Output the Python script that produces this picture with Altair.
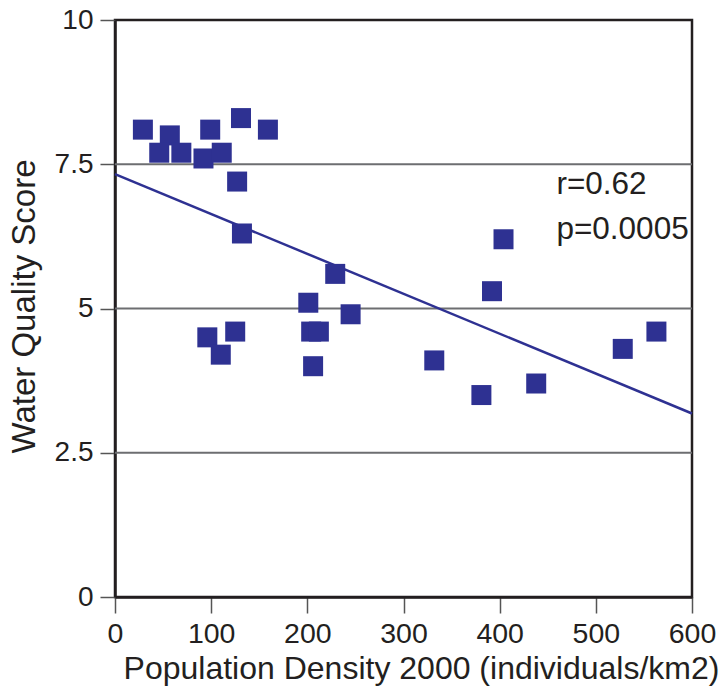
import altair as alt
import pandas as pd

# Data
density = [29, 57, 46, 69, 92, 99, 111, 131, 159, 127, 132,
           96, 110, 125, 201, 229, 204, 212, 206, 245,
           332, 381, 392, 404, 438, 528, 563]
quality = [8.1, 8.0, 7.7, 7.7, 7.6, 8.1, 7.7, 8.3, 8.1, 7.2, 6.3,
           4.5, 4.2, 4.6, 5.1, 5.6, 4.6, 4.6, 4.0, 4.9,
           4.1, 3.5, 5.3, 6.2, 3.7, 4.3, 4.6]

fit_x = [0, 600]
fit_y = [7.33, 3.18]

grid_vals = [2.5, 5, 7.5]

ann_x = [459, 459]
ann_y = [6.98, 6.2]
ann_text = ["r=0.62", "p=0.0005"]

pts = pd.DataFrame({"x": density, "y": quality})
fit = pd.DataFrame({"x": fit_x, "y": fit_y})
grid = pd.DataFrame({"y": grid_vals})
ann = pd.DataFrame({"x": ann_x, "y": ann_y, "t": ann_text})

FONT = "Liberation Sans"
INK = "#231f20"
NAVY = "#2e3192"

xscale = alt.Scale(domain=[0, 600], nice=False, zero=False)
yscale = alt.Scale(domain=[0, 10], nice=False, zero=False)

xaxis = alt.Axis(
    values=[0, 100, 200, 300, 400, 500, 600], format="d", grid=False,
    domainColor=INK, domainWidth=2.5, tickColor="#555555", tickWidth=1.5,
    tickSize=16, labelFont=FONT, labelFontSize=28.5, labelColor=INK,
    labelBaseline="alphabetic", labelPadding=29, labelFlush=False,
    title="Population Density 2000 (individuals/km2)", titleFont=FONT,
    titleFontSize=32, titleFontWeight="normal", titleColor=INK,
    titleX=306, titleY=81, titleBaseline="alphabetic", titleAnchor="middle",
    titleAlign="center",
)
yaxis = alt.Axis(
    values=[0, 2.5, 5, 7.5, 10], grid=False,
    labelExpr="datum.value == 0 ? '0' : datum.value == 5 ? '5' : datum.value == 10 ? '10' : format(datum.value, '.1f')",
    domainColor=INK, domainWidth=2.5, tickColor="#555555", tickWidth=1.5,
    tickSize=15, labelFont=FONT, labelFontSize=28, labelColor=INK,
    labelPadding=7, labelFlush=False, labelBaseline="middle",
    title="Water Quality Score", titleFont=FONT, titleFontSize=33,
    titleFontWeight="normal", titleColor=INK, titleAngle=-90,
    titleX=-91, titleY=286, titleBaseline="middle", titleAlign="center",
)

gridlines = alt.Chart(grid).mark_rule(color="#6d6e71", strokeWidth=2).encode(
    y=alt.Y("y:Q", scale=yscale, axis=yaxis),
)

points = alt.Chart(pts).mark_square(size=400, color=NAVY, opacity=1).encode(
    x=alt.X("x:Q", scale=xscale, axis=xaxis),
    y=alt.Y("y:Q", scale=yscale, axis=yaxis),
)

line = alt.Chart(fit).mark_line(color=NAVY, strokeWidth=2.5).encode(
    x=alt.X("x:Q", scale=xscale),
    y=alt.Y("y:Q", scale=yscale),
)

text = alt.Chart(ann).mark_text(
    font=FONT, fontSize=31.5, color=INK, align="left", baseline="alphabetic"
).encode(
    x=alt.X("x:Q", scale=xscale),
    y=alt.Y("y:Q", scale=yscale),
    text="t:N",
)

chart = alt.layer(gridlines, line, points, text).properties(
    width=577, height=577,
    padding={"left": 115, "top": 20, "right": 29, "bottom": 94},
    autosize=alt.AutoSizeParams(type="none"),
    background="white",
).configure_view(stroke=INK, strokeWidth=2.5)

chart.save("out.html", embed_options={"renderer": "svg", "actions": False})
